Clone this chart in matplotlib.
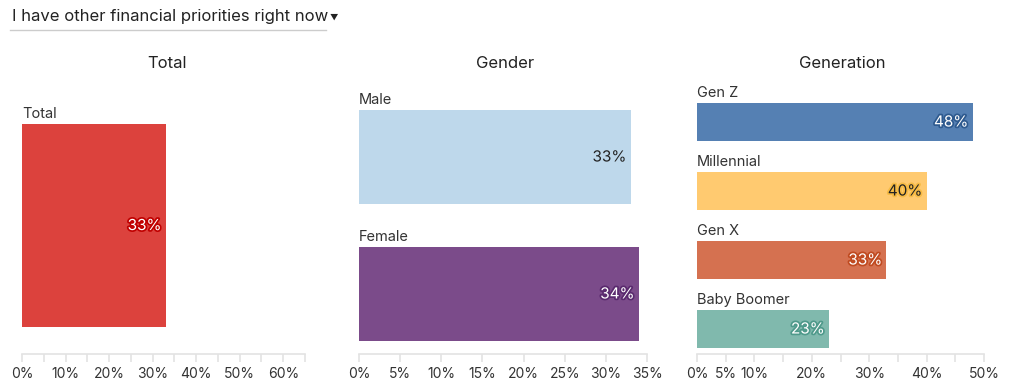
import matplotlib.pyplot as plt
import matplotlib.patheffects as pe
from matplotlib.text import Annotation
from matplotlib.ticker import FixedLocator, FuncFormatter

plt.rcParams['font.family'] = ['Inter', 'DejaVu Sans']

# data
total_labels = ['Total']
total_values = [33]
total_colors = ['#dc423d']

gender_labels = ['Male', 'Female']
gender_values = [33, 34]
gender_colors = ['#bed8eb', '#7b4b8a']

gen_labels = ['Gen Z', 'Millennial', 'Gen X', 'Baby Boomer']
gen_values = [48, 40, 33, 23]
gen_colors = ['#5580b3', '#ffca70', '#d57150', '#80b9ad']

# text style per bar: (text colour, halo colour)
total_text = [('white', '#c00000')]
gender_text = [('#222222', '#bed8eb'), ('white', '#5a2a6e')]
gen_text = [('white', '#2e5a8f'), ('#222222', '#f7bb45'),
            ('white', '#c04a20'), ('white', '#4f9a8b')]

W, H = 1024, 392
fig = plt.figure(figsize=(W / 100, H / 100), dpi=100)


def px_axes(x0, x1, y_top, y_bot):
    return fig.add_axes([x0 / W, 1 - y_bot / H, (x1 - x0) / W, (y_bot - y_top) / H])


def draw_panel(ax, labels, values, colors, txt, xmax, ylim, bar_h, major_ticks, label_ticks):
    y = list(range(len(labels)))
    ax.barh(y, values, height=bar_h, color=colors)
    ax.set_xlim(0, xmax)
    ax.set_ylim(*ylim)
    for i, (lab, v) in enumerate(zip(labels, values)):
        ax.annotate(lab, (0, i - bar_h / 2), xytext=(0, 2), textcoords='offset points',
                    ha='left', va='bottom', fontsize=10.5, color='#333333')
        tc, hc = txt[i]
        ax.annotate(f'{v}%', (v, i), xytext=(-3, 0), textcoords='offset points',
                    ha='right', va='center', fontsize=11, color=tc,
                    path_effects=[pe.withStroke(linewidth=2.5, foreground=hc)])
    for s in ['top', 'right', 'left']:
        ax.spines[s].set_visible(False)
    ax.spines['bottom'].set_color('#e3e3e3')
    ax.spines['bottom'].set_linewidth(1.2)
    ax.set_yticks([])
    ax.xaxis.set_major_locator(FixedLocator(major_ticks))
    ax.xaxis.set_major_formatter(FuncFormatter(
        lambda v, p: f'{v:.0f}%' if round(v) in label_ticks else ''))
    ax.tick_params(axis='x', length=6, width=1.2, color='#e3e3e3',
                   labelsize=10, labelcolor='#333333', pad=3)
    ax.patch.set_alpha(0)


# Total panel
ax1 = px_axes(22, 305, 80, 354)
draw_panel(ax1, total_labels, total_values, total_colors, total_text, 65,
           (0.443, -0.502), 0.7, list(range(0, 66, 5)), [0, 10, 20, 30, 40, 50, 60])

# Gender panel
ax2 = px_axes(359, 647, 80, 354)
draw_panel(ax2, gender_labels, gender_values, gender_colors, gender_text, 35,
           (1.438, -0.562), 0.686, list(range(0, 36, 5)), list(range(0, 36, 5)))

# Generation panel
ax3 = px_axes(697, 984, 80, 354)
draw_panel(ax3, gen_labels, gen_values, gen_colors, gen_text, 50,
           (3.362, -0.609), 0.55, list(range(0, 51, 5)), [0, 5, 10, 20, 30, 40, 50])

# panel titles
for x, t in [(167, 'Total'), (505, 'Gender'), (842, 'Generation')]:
    fig.text(x / W, 1 - 64 / H, t, ha='center', va='center', fontsize=12, color='#222222')

# dropdown header
header = fig.text(12 / W, 1 - 17 / H, 'I have other financial priorities right now',
                  ha='left', va='center', fontsize=12, color='#222222')
fig.add_artist(Annotation('\u25bc', xy=(1, 0.5), xycoords=header, xytext=(1, 0),
                          textcoords='offset points', ha='left', va='center',
                          fontsize=6, color='#222222'))
fig.add_artist(plt.Line2D([10 / W, 326 / W], [1 - 29.5 / H, 1 - 29.5 / H],
                          color='#cccccc', linewidth=1))

fig.savefig('out.png', dpi=100)
